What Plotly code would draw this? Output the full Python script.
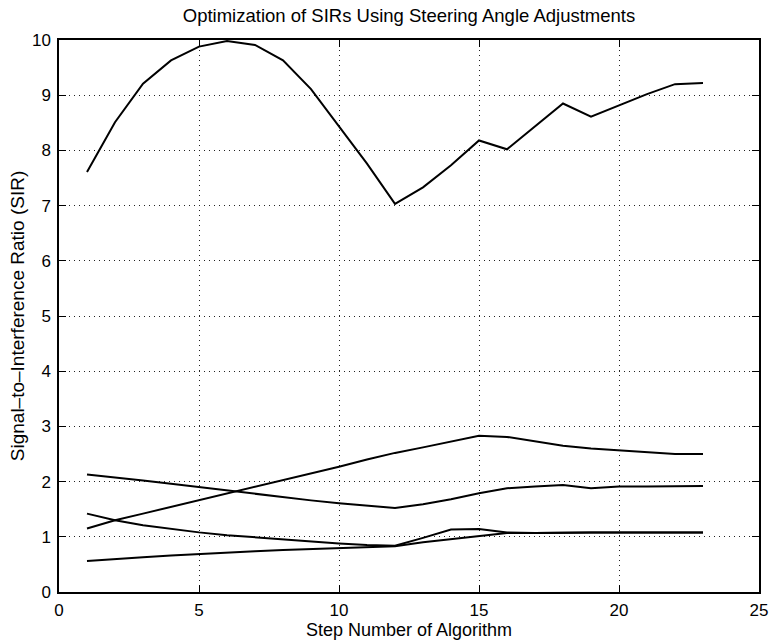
import plotly.graph_objects as go

# Algorithm step numbers
steps = list(range(1, 24))

# SIR of each user after every steering-angle adjustment step
sir_user1 = [7.61, 8.51, 9.21, 9.63, 9.88, 9.98, 9.91, 9.63, 9.11, 8.43, 7.76, 7.03,
             7.33, 7.73, 8.18, 8.02, 8.43, 8.85, 8.61, 8.82, 9.02, 9.20, 9.22]
sir_user2 = [1.15, 1.30, 1.42, 1.54, 1.66, 1.78, 1.91, 2.03, 2.15, 2.27, 2.40, 2.52,
             2.62, 2.73, 2.83, 2.81, 2.73, 2.65, 2.60, 2.57, 2.54, 2.50, 2.50]
sir_user3 = [2.13, 2.08, 2.02, 1.96, 1.90, 1.84, 1.77, 1.71, 1.66, 1.61, 1.56, 1.52,
             1.59, 1.68, 1.79, 1.88, 1.91, 1.94, 1.88, 1.91, 1.91, 1.92, 1.92]
sir_user4 = [1.42, 1.30, 1.21, 1.14, 1.08, 1.03, 0.99, 0.95, 0.92, 0.88, 0.85, 0.84,
             0.98, 1.13, 1.14, 1.08, 1.07, 1.08, 1.08, 1.08, 1.08, 1.08, 1.08]
sir_user5 = [0.56, 0.60, 0.63, 0.66, 0.69, 0.72, 0.74, 0.76, 0.78, 0.80, 0.82, 0.83,
             0.90, 0.96, 1.02, 1.07, 1.07, 1.08, 1.08, 1.08, 1.08, 1.08, 1.08]

x_ticks = [0, 5, 10, 15, 20, 25]
y_ticks = list(range(0, 11))

font_family = "Liberation Sans, Arial, Helvetica, sans-serif"

fig = go.Figure()
for series in (sir_user1, sir_user2, sir_user3, sir_user4, sir_user5):
    fig.add_trace(go.Scatter(
        x=steps, y=series, mode="lines",
        line=dict(color="black", width=2),
        showlegend=False, hoverinfo="skip",
    ))

axis_common = dict(
    showline=True, linecolor="black", linewidth=1.5, mirror="ticks",
    ticks="inside", ticklen=7, tickwidth=1.2, tickcolor="black",
    showgrid=True, gridcolor="#222222", gridwidth=1.2, griddash="1px,4px",
    zeroline=False, automargin=False,
    tickfont=dict(family=font_family, size=17, color="black"),
)

fig.update_layout(
    width=771, height=640,
    margin=dict(l=59, r=12, t=40, b=48),
    paper_bgcolor="white", plot_bgcolor="white",
    font=dict(family=font_family, color="black"),
    title=dict(
        text="Optimization of SIRs Using Steering Angle Adjustments",
        x=(59 + 759) / 2 / 771, xanchor="center",
        y=1 - 16 / 640, yanchor="middle",
        font=dict(family=font_family, size=18.5, color="black"),
    ),
    xaxis=dict(
        range=[0, 25], tickvals=x_ticks, ticklabelstandoff=2,
        **axis_common,
    ),
    yaxis=dict(
        range=[0, 10], tickvals=y_ticks, ticklabelstandoff=3,
        title=dict(text="Signal\u2013to\u2013Interference Ratio (SIR)", standoff=2,
                   font=dict(family=font_family, size=19, color="black")),
        **axis_common,
    ),
    annotations=[dict(
        text="Step Number of Algorithm",
        xref="paper", yref="paper", x=0.5, y=0,
        xanchor="center", yanchor="middle", yshift=-38,
        showarrow=False,
        font=dict(family=font_family, size=18, color="black"),
    )],
)

fig.write_html("out.html")
